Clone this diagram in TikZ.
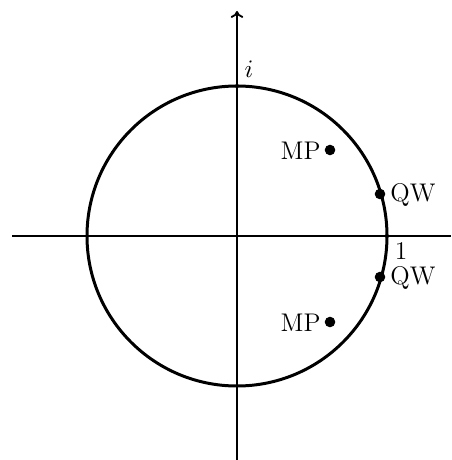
\documentclass[tikz,border=0pt]{standalone}
\usetikzlibrary{arrows.meta}
\begin{document}
\begin{tikzpicture}[x=0.435pt,y=-0.435pt,
  font=\fontsize{11.1}{13}\selectfont,
  axis/.style={line width=0.8pt},
  circ/.style={line width=1.3pt},
  bigdot/.style={circle,fill=black,inner sep=0pt,minimum size=4.6pt},
  smalldot/.style={circle,fill=black,inner sep=0pt,minimum size=1.8pt},
  lbl/.style={inner sep=0pt}]
\useasboundingbox (0,0) rectangle (451,460);
\coordinate (O) at (237,236);
\coordinate (L) at (12,236);
\coordinate (R) at (451,236);
\coordinate (T) at (237,11);
\coordinate (B) at (237,460);
\draw[axis] (L) -- (R);
\draw[axis,-{To[length=3pt,width=5.5pt]}] (B) -- (T);
\draw[circ] (O) circle[radius=150];
\node[smalldot] (one) at (387,236) {};
\node[smalldot] (ii) at (237,86) {};
\node[lbl] (ilbl) at (249,69) {$i$};
\node[lbl] (onelbl) at (401,251) {1};
\node[bigdot] (q1) at (380,194) {};
\node[bigdot] (q2) at (380,277) {};
\node[bigdot] (m1) at (330,150) {};
\node[bigdot] (m2) at (330,322) {};
\node[lbl,anchor=west] (q1l) at (390,195) {QW};
\node[lbl,anchor=west] (q2l) at (390,278) {QW};
\node[lbl,anchor=east] (m1l) at (321,151) {MP};
\node[lbl,anchor=east] (m2l) at (321,323) {MP};
\end{tikzpicture}
\end{document}
